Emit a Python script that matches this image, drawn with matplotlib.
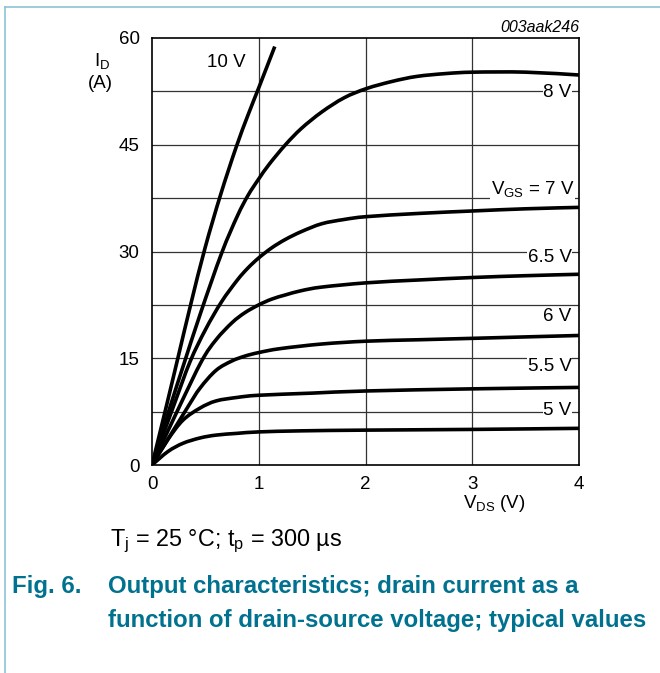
import matplotlib
matplotlib.use("Agg")
import matplotlib.pyplot as plt
from matplotlib.lines import Line2D
from matplotlib.path import Path
from matplotlib.patches import PathPatch

plt.rcParams['font.family'] = ['Liberation Sans', 'DejaVu Sans']

# Data (V_DS in V, I_D in A)
v10 = [0, 0.14, 0.25, 0.365, 0.497, 0.643, 0.787, 0.9, 1.0, 1.15]
i10 = [0, 8.6, 15.5, 22.7, 30.5, 38.0, 44.6, 49.2, 53.0, 58.8]

v8 = [0, 0.17, 0.29, 0.456, 0.653, 0.80, 0.90, 1.0, 1.1, 1.25, 1.4, 1.59, 1.8, 2.01, 2.25, 2.48, 2.75, 3.01, 3.5, 4.0]
i8 = [0, 8.2, 13.8, 21.4, 29.8, 35.0, 37.9, 40.2, 42.3, 45.0, 47.3, 49.6, 51.6, 52.9, 53.9, 54.6, 55.0, 55.2, 55.2, 54.8]

v7 = [0, 0.2, 0.356, 0.5, 0.65, 0.8, 0.9, 1.0, 1.12, 1.25, 1.4, 1.59, 1.8, 2.01, 2.5, 3.01, 3.5, 4.0]
i7 = [0, 8.2, 14.5, 19.0, 22.9, 26.0, 27.7, 29.1, 30.5, 31.7, 32.8, 33.9, 34.5, 34.9, 35.35, 35.7, 36.0, 36.2]

v65 = [0, 0.25, 0.465, 0.6, 0.75, 0.87, 1.0, 1.12, 1.25, 1.4, 1.59, 2.01, 2.5, 3.01, 3.5, 4.0]
i65 = [0, 8.0, 14.6, 17.6, 20.0, 21.4, 22.5, 23.3, 23.9, 24.5, 25.0, 25.6, 26.0, 26.35, 26.6, 26.8]

v6 = [0, 0.325, 0.45, 0.6, 0.746, 0.87, 1.0, 1.2, 1.59, 2.01, 2.5, 3.01, 3.5, 4.0]
i6 = [0, 7.9, 10.8, 13.3, 14.6, 15.3, 15.8, 16.35, 17.0, 17.4, 17.6, 17.8, 18.0, 18.2]

v55 = [0, 0.15, 0.29, 0.45, 0.6, 0.8, 1.0, 1.5, 2.0, 3.0, 4.0]
i55 = [0, 3.6, 6.3, 8.0, 9.0, 9.5, 9.8, 10.1, 10.4, 10.7, 10.9]

v5 = [0, 0.15, 0.29, 0.45, 0.6, 0.8, 1.0, 1.4, 2.0, 3.0, 4.0]
i5 = [0, 1.9, 3.05, 3.8, 4.2, 4.45, 4.65, 4.8, 4.9, 5.0, 5.15]

curves = [(v10, i10), (v8, i8), (v7, i7), (v65, i65), (v6, i6), (v55, i55), (v5, i5)]

x_ticks = [0, 1, 2, 3, 4]
y_ticks = [0, 15, 30, 45, 60]
x_grid = [1, 2, 3]
y_grid = [7.5, 15, 22.5, 30, 37.5, 45, 52.5]

labels = ["8 V", "6.5 V", "6 V", "5.5 V", "5 V"]
label_y = [52.4, 29.1, 20.9, 13.9, 7.6]

teal = '#00728f'


def smooth_path(xs, ys):
    """Catmull-Rom through the read points, drawn as cubic Bezier segments."""
    pts = list(zip(xs, ys))
    n = len(pts)
    verts = [pts[0]]
    codes = [Path.MOVETO]
    for k in range(n - 1):
        p0 = pts[k - 1] if k > 0 else pts[k]
        p1 = pts[k]
        p2 = pts[k + 1]
        p3 = pts[k + 2] if k + 2 < n else pts[k + 1]
        c1 = (p1[0] + (p2[0] - p0[0]) / 6, p1[1] + (p2[1] - p0[1]) / 6)
        c2 = (p2[0] - (p3[0] - p1[0]) / 6, p2[1] - (p3[1] - p1[1]) / 6)
        verts += [c1, c2, p2]
        codes += [Path.CURVE4] * 3
    return Path(verts, codes)


fig = plt.figure(figsize=(6.6, 6.73), dpi=100)
ax = fig.add_axes([152/660, 1-465/673, (579-152)/660, (465-38)/673])

ax.set_xlim(0, 4)
ax.set_ylim(0, 60)

for g in x_grid:
    ax.axvline(g, color='#333333', lw=0.9, zorder=1)
for g in y_grid:
    ax.axhline(g, color='#333333', lw=0.9, zorder=1)

for v, i in curves:
    ax.add_patch(PathPatch(smooth_path(v, i), fill=False, edgecolor='black',
                           lw=2.6, joinstyle='round', capstyle='butt', zorder=3))

ax.set_xticks(x_ticks)
ax.set_yticks(y_ticks)
ax.tick_params(length=0, labelsize=13.5, pad=8)
ax.tick_params(axis='y', pad=9)
for s in ax.spines.values():
    s.set_linewidth(1.2)
    s.set_zorder(4)

fs = 13.5
bb = dict(facecolor='white', edgecolor='none', pad=0.5)
for t, y in zip(labels, label_y):
    ax.text(3.93, y, t, ha='right', va='center', fontsize=fs, bbox=bb, zorder=2)
ax.text(3.955, 38.6, r'V$_{\mathregular{GS}}$ = 7 V', ha='right', va='center',
        fontsize=fs, bbox=bb, zorder=2)
ax.text(0.70, 56.5, '10 V', ha='center', va='center', fontsize=fs)

# axis labels
fig.text(102/660, 1-62/673, r'I$_{\mathregular{D}}$', ha='center', va='center', fontsize=fs)
fig.text(100/660, 1-84/673, '(A)', ha='center', va='center', fontsize=fs)
fig.text(494/660, 1-503/673, r'V$_{\mathregular{DS}}$ (V)', ha='center', va='center', fontsize=fs)
fig.text(579/660, 1-28/673, '003aak246', ha='right', va='center', fontsize=11.5, style='italic')

fig.text(110/660, 1-541/673, r'T$_{\mathregular{j}}$ = 25 °C; t$_{\mathregular{p}}$ = 300 µs',
         ha='left', va='center', fontsize=16.8)
tfs = 17.3
fig.text(12/660, 1-586/673, 'Fig. 6.', ha='left', va='center', fontsize=tfs,
         weight='bold', color=teal)
fig.text(108/660, 1-586/673, 'Output characteristics; drain current as a',
         ha='left', va='center', fontsize=tfs, weight='bold', color=teal)
fig.text(108/660, 1-620/673, 'function of drain-source voltage; typical values',
         ha='left', va='center', fontsize=tfs, weight='bold', color=teal)

# frame
fc = '#8cc3d4'
fig.add_artist(Line2D([5/660, 1], [1-7/673, 1-7/673], color=fc, lw=1.2, transform=fig.transFigure))
fig.add_artist(Line2D([5/660, 5/660], [0, 1-7/673], color=fc, lw=1.2, transform=fig.transFigure))

fig.savefig('out.png', dpi=100, facecolor='white')
